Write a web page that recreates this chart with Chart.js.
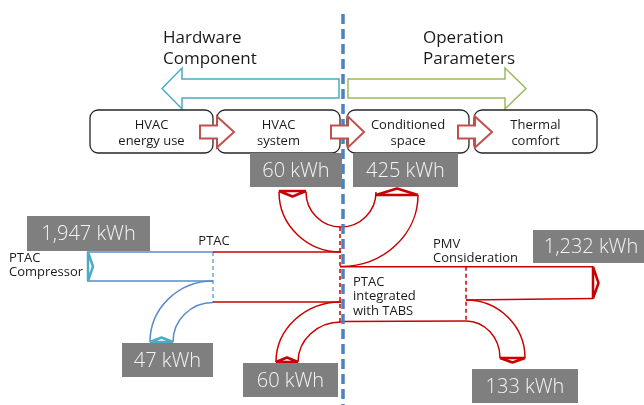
<!DOCTYPE html>
<html><head><meta charset="utf-8">
<script src="https://cdn.jsdelivr.net/npm/chart.js@4"></script>
<style>html,body{margin:0;padding:0;background:#fff;}#wrap{width:644px;height:405px;}</style>
</head><body><div id="wrap"><canvas id="c" width="644" height="405"></canvas></div>
<script>
// ---- data ----
const stageLabels = [['HVAC','energy use'],['HVAC','system'],['Conditioned','space'],['Thermal','comfort']];
const groupTitles = [['Hardware','Component'],['Operation','Parameters']];
const nodeTexts = [['PTAC','Compressor'],['PTAC'],['PMV','Consideration'],['PTAC','integrated','with TABS']];
const flowNames = ['PTAC compressor','PTAC loss','HVAC system','Conditioned space','TABS','PMV consideration','High temperature'];
const flowKWh = [1947, 47, 60, 425, 60, 1232, 133];

// ---- layout (diagram geometry, in canvas units) ----
const valueBoxes = [
  {x0:27,x1:150,y0:216,y1:251,cx:88.5},
  {x0:122,x1:213,y0:343,y1:377,cx:167.5},
  {x0:250,x1:342,y0:153,y1:187,cx:296},
  {x0:353,x1:458,y0:153,y1:187,cx:405.5},
  {x0:243,x1:338,y0:363,y1:397,cx:290.5},
  {x0:533,x1:654,y0:230,y1:263,cx:591},
  {x0:472,x1:578,y0:369,y1:403,cx:525}
];
const stageBoxes = [{x0:90,x1:213},{x0:217,x1:340},{x0:347,x1:469},{x0:474,x1:597}];
const stageArrows = [{x0:200,xh:217,xt:234},{x0:331,xh:348,xt:364},{x0:458,xh:475,xt:492}];
const titlePos = [{x:163,y:38},{x:423,y:38}];
const nodeTextPos = [{x:9,y:258,al:'left'},{x:214,y:241,al:'center'},{x:433,y:244,al:'left'},{x:353,y:282,al:'left'}];

const FONT = '"Open Sans", "Noto Sans", sans-serif';
const RED = '#C80000', BLUE = '#5B8BC9', CYAN = '#4BACC6', GREEN = '#9BBB59', DBLUE = '#4F81BD';

const diagram = {
  id: 'diagram',
  afterDraw(chart) {
    const ctx = chart.ctx;
    const xs = chart.scales.x, ys = chart.scales.y;
    const X = v => xs.getPixelForValue(v);
    const Y = v => ys.getPixelForValue(v);
    const W = (x, d) => X(x + d) - X(x);
    const H = (y, d) => Y(y + d) - Y(y);
    ctx.save();
    function poly(pts, color, w, dash, close, fill, join) {
      ctx.beginPath();
      pts.forEach((p, i) => i ? ctx.lineTo(X(p[0]), Y(p[1])) : ctx.moveTo(X(p[0]), Y(p[1])));
      if (close) ctx.closePath();
      if (fill) { ctx.fillStyle = fill; ctx.fill(); }
      ctx.setLineDash(dash || []);
      ctx.lineJoin = join || 'miter';
      ctx.strokeStyle = color; ctx.lineWidth = w; ctx.stroke();
      ctx.setLineDash([]);
    }
    function arc(cx, cy, rx, ry, a0, a1, ccw, color, w) {
      ctx.beginPath();
      ctx.ellipse(X(cx), Y(cy), W(cx, rx), H(cy, ry), 0, a0, a1, ccw);
      ctx.strokeStyle = color; ctx.lineWidth = w; ctx.setLineDash([]); ctx.stroke();
    }
    const PI = Math.PI;

    // ---- sankey: blue part ----
    poly([[87,252],[213,252]], BLUE, 1.5);
    poly([[87,281],[213,281]], BLUE, 1.5);
    poly([[213,252],[213,302]], BLUE, 1.2, [4,3]);
    poly([[88,252],[93,266.5],[88,281]], CYAN, 2.5, null, true, null, 'bevel');
    arc(213, 342, 63, 61, -PI/2, -PI, true, BLUE, 1.5);
    arc(213, 342, 40, 39.5, -PI/2, -PI, true, BLUE, 1.5);
    poly([[150,342],[161.5,337.5],[173,342]], CYAN, 2.5, null, true, null, 'bevel');

    // ---- sankey: red part ----
    poly([[213,252],[341,252]], RED, 1.5);
    poly([[213,302],[341,302]], RED, 1.5);
    arc(341, 192, 62, 60, PI, PI/2, true, RED, 1.5);
    arc(341, 192, 35, 35, PI, 0, true, RED, 1.5);
    arc(341, 195, 77, 71.5, 0, PI/2, false, RED, 1.5);
    poly([[279,191],[292.5,196.5],[306,191]], RED, 2.5, null, true, null, 'bevel');
    poly([[376,195],[397,188.5],[418,195]], RED, 2.5, null, true, null, 'bevel');
    poly([[340,227],[340,322]], RED, 1.5, [4,3]);
    poly([[340,266.7],[593,266.7]], RED, 1.5);
    poly([[466,300],[593,298.5]], RED, 1.5);
    poly([[593,266.7],[598.5,283],[593,298.5]], RED, 2.5, null, true, null, 'bevel');
    poly([[466,266.7],[466,321]], RED, 1.5, [4,3]);
    poly([[341,321.5],[466,321]], RED, 1.5);
    arc(341, 362, 65, 60, -PI/2, -PI, true, RED, 1.5);
    arc(341, 362, 43, 40, -PI/2, -PI, true, RED, 1.5);
    poly([[276,362],[287,357.5],[298,362]], RED, 2.5, null, true, null, 'bevel');
    arc(466, 358, 59, 58, -PI/2, 0, false, RED, 1.5);
    arc(466, 358, 34, 37, -PI/2, 0, false, RED, 1.5);
    poly([[500,358],[512.5,362.5],[525,358]], RED, 2.5, null, true, null, 'bevel');

    // ---- dashed divider ----
    poly([[343,14],[343,405]], DBLUE, 3.5, [10,5]);

    // ---- big direction arrows ----
    poly([[339,79],[182,79],[182,68],[162,88.5],[182,109],[182,98],[339,98]], CYAN, 1.5, null, true, '#fff');
    poly([[348,79],[505,79],[505,68],[526,88.5],[505,109],[505,98],[348,98]], GREEN, 1.5, null, true, '#fff');

    // ---- titles ----
    ctx.fillStyle = '#1a1a1a';
    ctx.font = '17px ' + FONT;
    ctx.textAlign = 'left'; ctx.textBaseline = 'middle';
    groupTitles.forEach((t, i) => {
      t.forEach((s, j) => ctx.fillText(s, X(titlePos[i].x), Y(titlePos[i].y + j * 21)));
    });

    // ---- stage boxes ----
    stageBoxes.forEach((b, i) => {
      ctx.beginPath();
      ctx.roundRect(X(b.x0), Y(110), W(b.x0, b.x1 - b.x0), H(110, 43), 8);
      ctx.fillStyle = '#fff'; ctx.fill();
      ctx.strokeStyle = '#262626'; ctx.lineWidth = 1.3; ctx.stroke();
      ctx.fillStyle = '#1a1a1a'; ctx.font = '13px ' + FONT; ctx.textAlign = 'center';
      stageLabels[i].forEach((s, j) => ctx.fillText(s, X((b.x0 + b.x1) / 2), Y(125 + j * 16)));
    });
    stageArrows.forEach(a => {
      poly([[a.x0,125.5],[a.xh,125.5],[a.xh,116.5],[a.xt,132],[a.xh,147.5],[a.xh,138.5],[a.x0,138.5]], '#C0504D', 2, null, true, '#fff');
    });

    // ---- node texts ----
    ctx.fillStyle = '#1a1a1a'; ctx.font = '13px ' + FONT;
    nodeTexts.forEach((t, i) => {
      const p = nodeTextPos[i];
      ctx.textAlign = p.al;
      t.forEach((s, j) => ctx.fillText(s, X(p.x), Y(p.y + j * 14.5)));
    });

    // ---- value labels (from dataset points) ----
    const meta = chart.getDatasetMeta(0);
    meta.data.forEach((el, i) => {
      const b = valueBoxes[i];
      ctx.fillStyle = '#7F7F7F';
      ctx.fillRect(X(b.x0), Y(b.y0), W(b.x0, b.x1 - b.x0), H(b.y0, b.y1 - b.y0));
      ctx.fillStyle = '#F4F4F4';
      ctx.font = '300 20px ' + FONT; ctx.textAlign = 'center'; ctx.textBaseline = 'middle';
      ctx.fillText(flowKWh[i].toLocaleString('en-US') + ' kWh', el.x, el.y + 1);
    });
    ctx.restore();
  }
};

new Chart(document.getElementById('c'), {
  type: 'scatter',
  data: { datasets: [{
    label: 'Energy flows',
    data: valueBoxes.map(b => ({ x: b.cx, y: (b.y0 + b.y1) / 2 })),
    pointRadius: 0, pointHoverRadius: 0
  }]},
  options: {
    responsive: false, animation: false, devicePixelRatio: 1,
    layout: { padding: 0 },
    plugins: { legend: { display: false }, tooltip: { enabled: false } },
    scales: {
      x: { type: 'linear', display: false, min: 0, max: 644 },
      y: { type: 'linear', display: false, min: 0, max: 405, reverse: true }
    }
  },
  plugins: [diagram]
});
</script>
</body></html>
